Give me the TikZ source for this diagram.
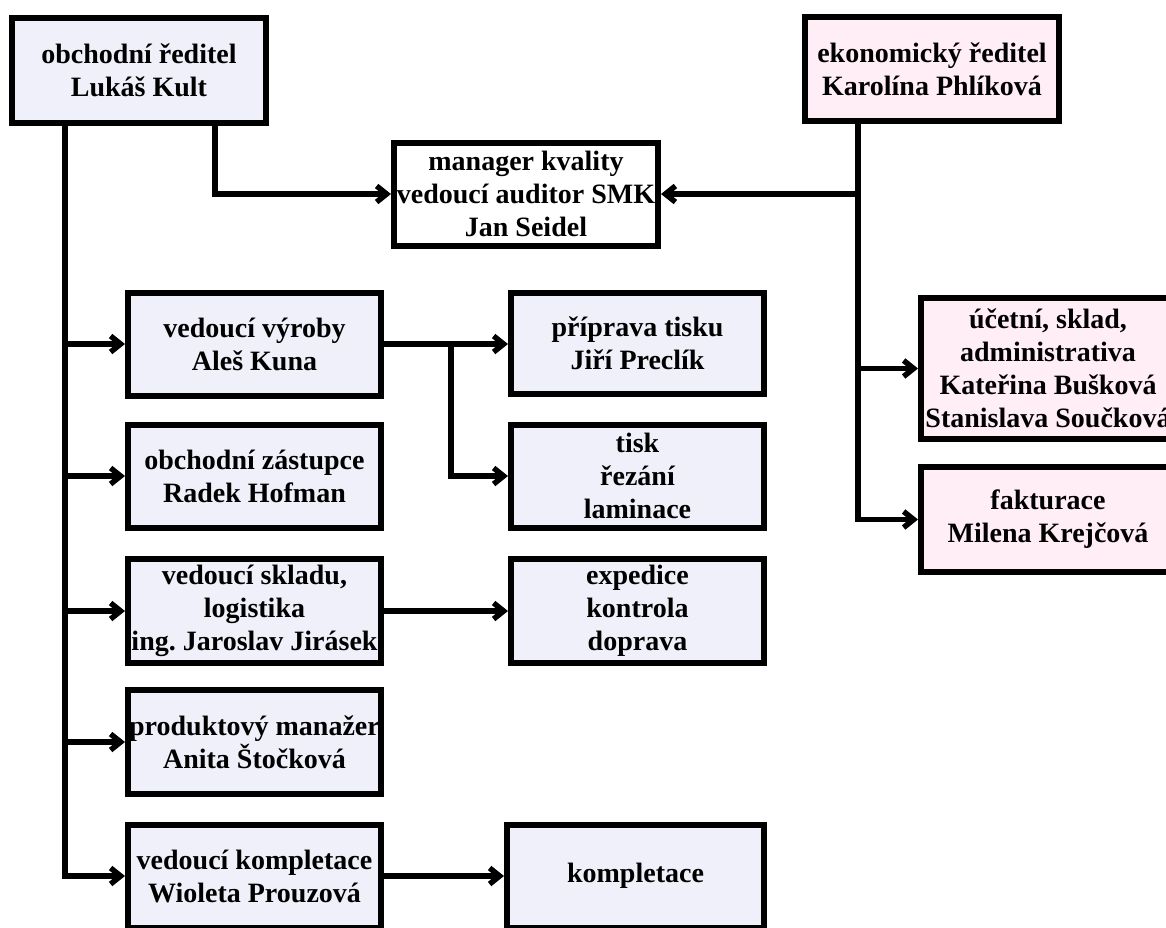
\documentclass[tikz,border=0pt]{standalone}
\usepackage{fontspec}
\setmainfont{Liberation Serif}
\usetikzlibrary{arrows.meta}
\definecolor{lav}{RGB}{240,240,250}
\definecolor{rose}{RGB}{255,238,245}
\frenchspacing
\begin{document}
\begin{tikzpicture}[x=1pt,y=-1pt,
  box/.style={draw, line width=6pt, inner sep=0pt, align=center,
    font=\bfseries\fontsize{28}{33}\selectfont,
    minimum width=254pt, minimum height=103pt},
  bluebox/.style={box, fill=lav},
  pinkbox/.style={box, fill=rose},
  link/.style={line width=5.5pt, -{Straight Barb[length=10pt,width=16pt]}}]
\useasboundingbox (0,0) rectangle (1166,927);
\clip (0,0) rectangle (1166,927);

% directors
\node[bluebox, minimum height=105pt] (A) at (139,70.5) {obchodní ředitel\\Lukáš Kult};
\node[pinkbox, minimum height=104pt] (E) at (932,69) {ekonomický ředitel\\Karolína Phlíková};
\node[box, fill=white, minimum width=264pt] (Q) at (526,194) {manager kvality\\vedoucí auditor SMK\\Jan Seidel};

% left column
\node[bluebox, minimum width=253pt] (V1) at (254.5,344) {vedoucí výroby\\Aleš Kuna};
\node[bluebox, minimum width=253pt] (V2) at (254.5,476) {obchodní zástupce\\Radek Hofman};
\node[bluebox, minimum width=253pt, minimum height=104pt] (V3) at (254.5,611) {vedoucí skladu,\\logistika\\ing. Jaroslav Jirásek};
\node[bluebox, minimum width=253pt, minimum height=104pt] (V4) at (254.5,742) {produktový manažer\\Anita Štočková};
\node[bluebox, minimum width=253pt] (V5) at (254.5,876) {vedoucí kompletace\\Wioleta Prouzová};

% second column
\node[bluebox, minimum width=253pt, minimum height=101pt] (P1) at (637.5,343.5) {příprava tisku\\Jiří Preclík};
\node[bluebox, minimum width=253pt] (P2) at (637.5,476) {tisk\\řezání\\laminace};
\node[bluebox, minimum width=253pt, minimum height=104pt] (P3) at (637.5,611) {expedice\\kontrola\\doprava};
\node[bluebox, minimum width=257pt] (P4) at (635.5,876) {kompletace};

% economic column
\node[pinkbox, minimum height=141pt] (U) at (1048,368.5) {účetní, sklad,\\administrativa\\Kateřina Bušková\\Stanislava Součková};
\node[pinkbox, minimum height=105pt] (F) at (1048,519.5) {fakturace\\Milena Krejčová};

% trunk points below the directors
\coordinate (at) at ([xshift=-74pt]A.south);
\coordinate (aq) at ([xshift=76pt]A.south);
\coordinate (et) at ([xshift=-74pt]E.south);

% commercial director
\draw[link] (aq) |- (Q.west);
\draw[link] (at) |- (V5.west);
\draw[link] (at |- V1.west) -- (V1.west);
\draw[link] (at |- V2.west) -- (V2.west);
\draw[link] (at |- V3.west) -- (V3.west);
\draw[link] (at |- V4.west) -- (V4.west);

% economic director
\draw[link] (et) |- (F.west);
\draw[link] (et |- U.west) -- (U.west);
\draw[link] (et |- Q.east) -- (Q.east);

% departments
\draw[link] (V1.east) -- (V1.east -| P1.west);
\draw[link] ([xshift=67pt]V1.east) |- (P2.west);
\draw[link] (V3.east) -- (V3.east -| P3.west);
\draw[link] (V5.east) -- (V5.east -| P4.west);
\end{tikzpicture}
\end{document}
